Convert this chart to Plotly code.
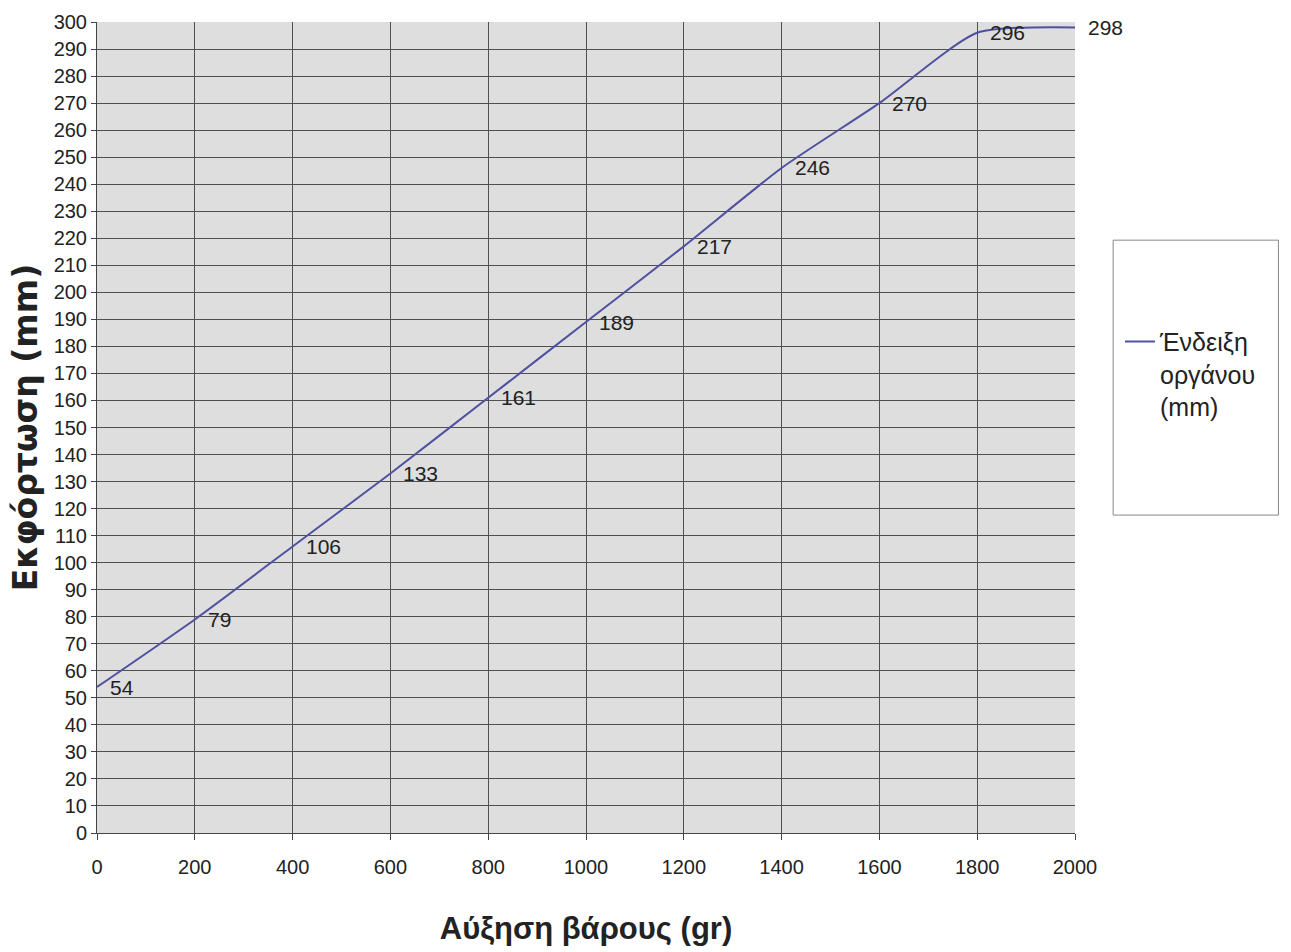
import plotly.graph_objects as go

weight_gr = [0, 200, 400, 600, 800, 1000, 1200, 1400, 1600, 1800, 2000]
reading_mm = [54, 79, 106, 133, 161, 189, 217, 246, 270, 296, 298]
series_name = "Ένδειξη<br>οργάνου<br>(mm)"
x_title = "Αύξηση βάρους (gr)"
y_title = "Εκφόρτωση (mm)"

FONT = "Liberation Sans, Arial, sans-serif"
WIDE = "DejaVu Sans, Verdana, sans-serif"

fig = go.Figure()
fig.add_trace(go.Scatter(
    x=weight_gr, y=reading_mm, mode="lines",
    name=series_name,
    line=dict(color="#5050a0", width=2, shape="spline", smoothing=0.6),
    cliponaxis=False,
))

annotations = [
    dict(x=xv, y=yv, xref="x", yref="y", text=str(yv), showarrow=False,
         xanchor="left", yanchor="middle", xshift=11,
         font=dict(family=FONT, size=21, color="#222222"))
    for xv, yv in zip(weight_gr, reading_mm)
]

fig.update_layout(
    width=1291, height=952,
    margin=dict(l=97, r=216, t=22, b=119),
    paper_bgcolor="white", plot_bgcolor="#dedede",
    font=dict(family=FONT, color="#222222"),
    showlegend=True,
    legend=dict(
        x=1.046, y=0.634, xanchor="left", yanchor="top",
        font=dict(family=FONT, size=25, color="#222222"),
        bgcolor="rgba(0,0,0,0)", borderwidth=0, valign="top",
        itemwidth=30, tracegroupgap=0,
    ),
    annotations=annotations,
    shapes=[dict(type="rect", xref="paper", yref="paper",
                 x0=1.039, x1=1.208, y0=0.392, y1=0.731,
                 line=dict(color="#888888", width=1), fillcolor="white", layer="below")],
)
fig.update_xaxes(
    range=[0, 2000], dtick=200, tick0=0,
    showgrid=True, gridcolor="#505050", gridwidth=1,
    showline=True, linecolor="#444444", linewidth=1,
    ticks="outside", ticklen=6, tickcolor="#444444", ticklabelstandoff=10,
    tickfont=dict(family=FONT, size=20, color="#222222"),
    title=dict(text=x_title, font=dict(family=FONT, size=31, color="#222222", weight="bold"), standoff=40),
    zeroline=False,
)
fig.update_yaxes(
    range=[0, 300], dtick=10, tick0=0,
    showgrid=True, gridcolor="#505050", gridwidth=1,
    showline=True, linecolor="#444444", linewidth=1,
    ticks="outside", ticklen=5, tickcolor="#444444",
    tickfont=dict(family=FONT, size=20, color="#222222"),
    title=dict(text=y_title, font=dict(family=WIDE, size=33, color="#222222", weight="bold"), standoff=6),
    zeroline=False,
)

fig.write_html("out.html")
